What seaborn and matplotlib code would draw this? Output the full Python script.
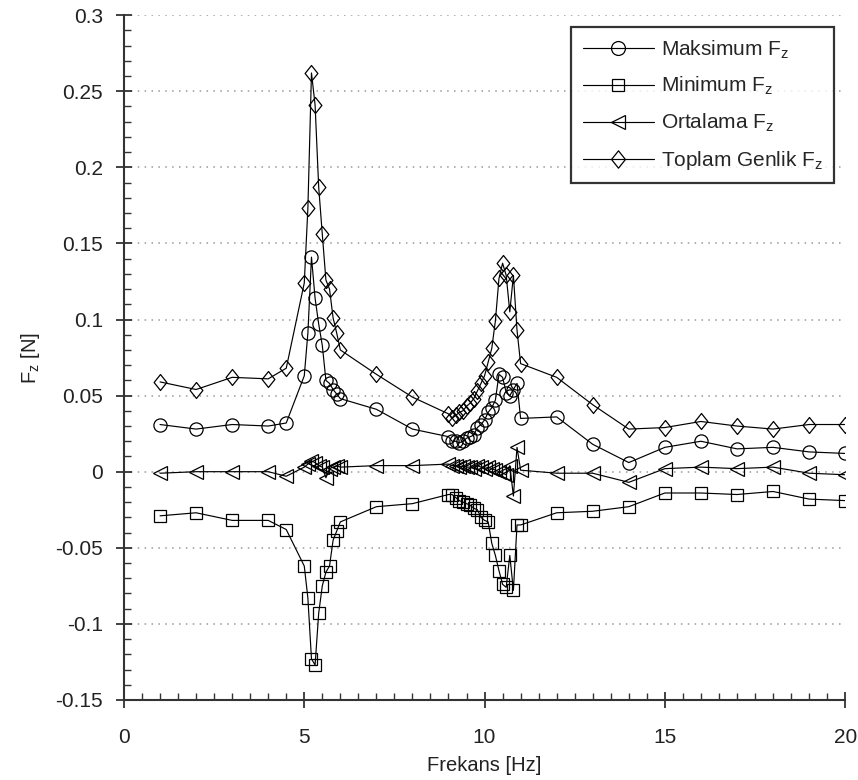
import numpy as np
import pandas as pd
import matplotlib
matplotlib.use("Agg")
import matplotlib.pyplot as plt
from matplotlib.ticker import MultipleLocator, FuncFormatter
from matplotlib.path import Path
import seaborn as sns

sns.set_theme(style="white")
plt.rcParams['font.family'] = ['Liberation Sans', 'DejaVu Sans']
plt.rcParams['mathtext.fontset'] = 'custom'
plt.rcParams['mathtext.rm'] = 'Liberation Sans'
plt.rcParams['mathtext.it'] = 'Liberation Sans'

freq = [1, 2, 3, 4, 4.5,
        5.0, 5.1, 5.2, 5.3, 5.4, 5.5, 5.6, 5.7, 5.8, 5.9, 6.0,
        7, 8,
        9.0, 9.1, 9.2, 9.3, 9.4, 9.5, 9.6, 9.7, 9.8, 9.9,
        10.0, 10.1, 10.2, 10.3, 10.4, 10.5, 10.6, 10.7, 10.8, 10.9,
        11, 12, 13, 14, 15, 16, 17, 18, 19, 20]

maks = [0.031, 0.028, 0.031, 0.030, 0.032,
        0.063, 0.091, 0.141, 0.114, 0.097, 0.083, 0.060, 0.058, 0.054, 0.051, 0.048,
        0.041, 0.028,
        0.023, 0.020, 0.020, 0.019, 0.020, 0.022, 0.023, 0.024, 0.029, 0.031,
        0.034, 0.039, 0.042, 0.047, 0.064, 0.062, 0.052, 0.050, 0.054, 0.058,
        0.035, 0.036, 0.018, 0.006, 0.016, 0.020, 0.015, 0.016, 0.013, 0.012]

mini = [-0.029, -0.027, -0.032, -0.032, -0.038,
        -0.062, -0.083, -0.123, -0.127, -0.093, -0.075, -0.066, -0.062, -0.045, -0.039, -0.033,
        -0.023, -0.021,
        -0.015, -0.015, -0.017, -0.019, -0.020, -0.021, -0.022, -0.024, -0.025, -0.030,
        -0.032, -0.033, -0.047, -0.055, -0.065, -0.074, -0.076, -0.055, -0.078, -0.035,
        -0.035, -0.027, -0.026, -0.023, -0.014, -0.014, -0.015, -0.013, -0.018, -0.019]

orta = [-0.001, 0.000, 0.000, 0.000, -0.003,
        0.003, 0.005, 0.007, 0.006, 0.004, 0.003, -0.004, 0.002, 0.003, 0.004, 0.003,
        0.004, 0.004,
        0.005, 0.004, 0.004, 0.003, 0.004, 0.003, 0.003, 0.002, 0.004, 0.003,
        0.002, 0.003, 0.002, 0.001, 0.000, -0.001, -0.002, 0.004, -0.016, 0.016,
        0.001, -0.001, -0.001, -0.007, 0.002, 0.003, 0.002, 0.003, -0.001, -0.002]

toplam = [0.059, 0.054, 0.062, 0.061, 0.068,
          0.124, 0.173, 0.262, 0.241, 0.187, 0.156, 0.126, 0.120, 0.101, 0.091, 0.080,
          0.064, 0.049,
          0.038, 0.035, 0.037, 0.039, 0.040, 0.043, 0.045, 0.048, 0.053, 0.058,
          0.063, 0.072, 0.081, 0.099, 0.127, 0.137, 0.129, 0.105, 0.129, 0.093,
          0.071, 0.062, 0.044, 0.028, 0.029, 0.033, 0.030, 0.028, 0.031, 0.031]

labels = [r"Maksimum F$_\mathregular{z}$", r"Minimum F$_\mathregular{z}$",
          r"Ortalama F$_\mathregular{z}$", r"Toplam Genlik F$_\mathregular{z}$"]
series = [maks, mini, orta, toplam]

diamond = Path([(0, 1), (0.8, 0), (0, -1), (-0.8, 0), (0, 1)],
               [Path.MOVETO, Path.LINETO, Path.LINETO, Path.LINETO, Path.CLOSEPOLY])
markers = ['o', 's', '<', diamond]
msizes = [9.5, 8, 10, 11.5]
leg_msizes = [10, 8.5, 10, 12.5]

fig = plt.figure(figsize=(8.58, 7.8), dpi=100)
ax = fig.add_axes([0.1445, 0.1026, 0.8405, 0.878])

for vals, lab, mk, ms in zip(series, labels, markers, msizes):
    sns.lineplot(x=freq, y=vals, ax=ax, label=lab, color='black', linewidth=0.85,
                 marker=mk, markersize=ms, markerfacecolor='none',
                 markeredgecolor='black', markeredgewidth=0.9, sort=False)

ax.set_xlim(0, 20)
ax.set_ylim(-0.15, 0.3)
ax.xaxis.set_major_locator(MultipleLocator(5))
ax.xaxis.set_minor_locator(MultipleLocator(0.5))
ax.yaxis.set_major_locator(MultipleLocator(0.05))
ax.yaxis.set_minor_locator(MultipleLocator(0.01))

def yfmt(v, p):
    s = f"{v:.2f}".rstrip('0').rstrip('.')
    if s in ('-0', '0'):
        s = '0'
    return s
ax.yaxis.set_major_formatter(FuncFormatter(yfmt))

ax.yaxis.grid(True, which='major', linestyle=(0, (1, 3.5)), color='#999999', linewidth=1.1)
ax.xaxis.grid(False)
for s in ['top', 'right']:
    ax.spines[s].set_visible(False)
for s in ['left', 'bottom']:
    ax.spines[s].set_color('#333333')
    ax.spines[s].set_linewidth(1.5)

ax.tick_params(which='major', direction='inout', length=12, width=1.3, color='#333333',
               labelsize=15, labelcolor='#222222', left=True, bottom=True)
ax.tick_params(axis='x', which='major', pad=14)
ax.tick_params(axis='y', which='major', pad=9)
ax.tick_params(which='minor', direction='in', length=5, width=1.0, color='#333333',
               left=True, bottom=True)

ax.set_xlabel("Frekans [Hz]", fontsize=14.5, color='#222222', labelpad=7)
ax.set_ylabel(r"F$_\mathregular{z}$ [N]", fontsize=14.5, color='#222222', labelpad=10)

leg = ax.legend(loc='upper right', bbox_to_anchor=(0.985, 0.983), borderaxespad=0,
                fancybox=False, frameon=True, edgecolor='black', fontsize=15,
                handlelength=3.4, labelspacing=0.7, borderpad=0.55, handletextpad=0.35)
leg.get_frame().set_linewidth(1.6)
for h, ms in zip(leg.legend_handles, leg_msizes):
    h.set_markersize(ms)

fig.savefig("out.png", dpi=100, facecolor='white')
